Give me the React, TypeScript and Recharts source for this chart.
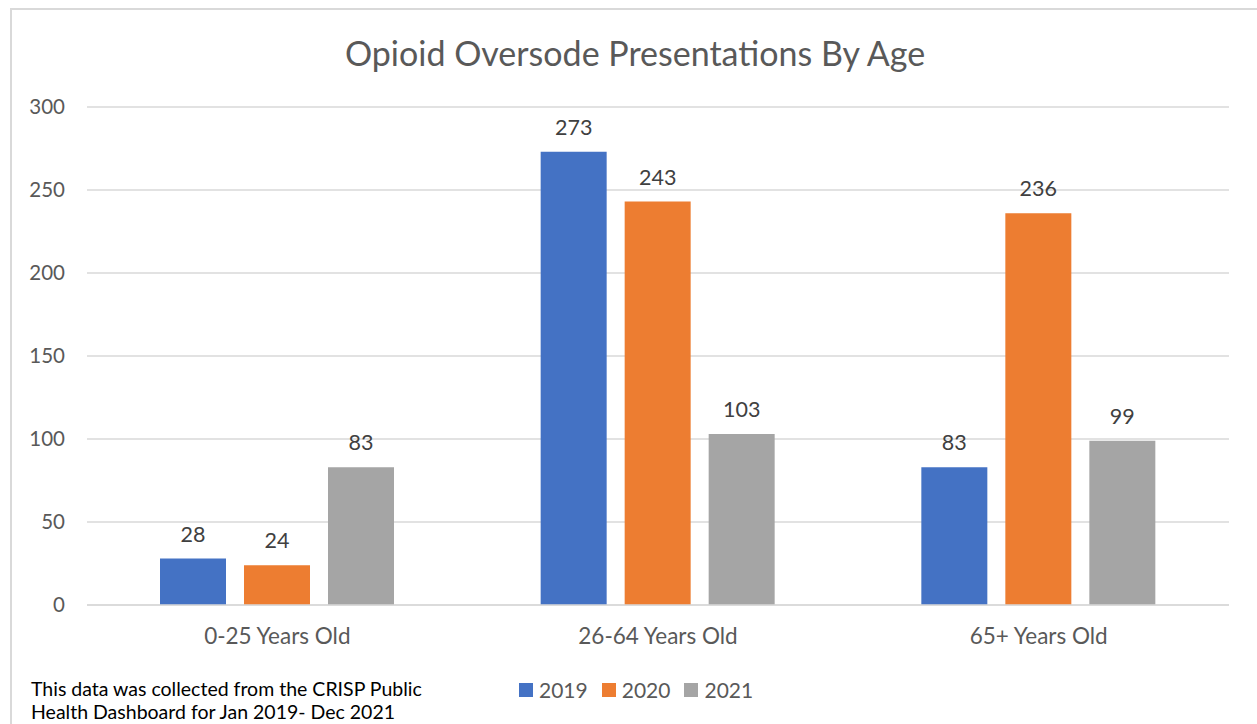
import { BarChart, Bar, XAxis, YAxis, CartesianGrid, LabelList } from 'recharts'

const ageGroups = ['0-25 Years Old', '26-64 Years Old', '65+ Years Old']
const years = ['2019', '2020', '2021']
const counts2019 = [28, 273, 83]
const counts2020 = [24, 243, 236]
const counts2021 = [83, 103, 99]
const yTicks = [0, 50, 100, 150, 200, 250, 300]
const colors = ['#4472C4', '#ED7D31', '#A5A5A5']

const seriesValues = [counts2019, counts2020, counts2021]

const data = ageGroups.map((group, i) => {
  const row: Record<string, string | number> = { group }
  years.forEach((y, s) => {
    row[y] = seriesValues[s][i]
  })
  return row
})

const font = 'Lato, "Liberation Sans", sans-serif'

export default function App() {
  return (
    <div
      style={{
        position: 'absolute',
        left: 0,
        top: 0,
        width: 1257,
        height: 724,
        overflow: 'hidden',
        background: '#fff',
        fontFamily: font,
      }}
    >
      {/* chart frame, runs off the right and bottom edge */}
      <div
        style={{
          position: 'absolute',
          left: 10,
          top: 8,
          width: 1300,
          height: 760,
          border: '2px solid #d9d9d9',
          boxSizing: 'border-box',
        }}
      />
      <div
        style={{
          position: 'absolute',
          left: 0,
          width: 1270,
          top: 32,
          textAlign: 'center',
          fontSize: 34,
          color: '#595959',
        }}
      >
        Opioid Oversode Presentations By Age
      </div>
      <div style={{ position: 'absolute', left: 0, top: 0 }}>
        <BarChart
          width={1257}
          height={724}
          data={data}
          margin={{ top: 107, right: 28, bottom: 89, left: 0 }}
          barGap={18}
          barSize={66}
        >
          <CartesianGrid vertical={false} stroke="#d9d9d9" strokeWidth={1.5} />
          <YAxis
            width={87}
            domain={[0, 300]}
            ticks={yTicks}
            axisLine={false}
            tickLine={false}
            tickSize={0}
            tickMargin={22}
            tick={{ fill: '#595959', fontSize: 20.5, fontFamily: font }}
          />
          <XAxis
            dataKey="group"
            height={30}
            axisLine={{ stroke: '#d9d9d9', strokeWidth: 1.5 }}
            tickLine={false}
            tickSize={0}
            tickMargin={23}
            tick={{ fill: '#595959', fontSize: 22.5, fontFamily: font }}
          />
          {years.map((y, s) => (
            <Bar key={y} dataKey={y} fill={colors[s]} isAnimationActive={false}>
              <LabelList
                dataKey={y}
                position="top"
                offset={17}
                fill="#404040"
                fontSize={21.5}
                fontFamily={font}
              />
            </Bar>
          ))}
        </BarChart>
      </div>
      <div
        style={{
          position: 'absolute',
          left: 519,
          top: 677,
          display: 'flex',
          alignItems: 'center',
          fontSize: 21,
          color: '#595959',
        }}
      >
        {years.map((y, s) => (
          <div key={y} style={{ display: 'flex', alignItems: 'center', marginRight: 14 }}>
            <span
              style={{
                display: 'inline-block',
                width: 14,
                height: 14,
                background: colors[s],
                marginRight: 6,
              }}
            />
            <span>{y}</span>
          </div>
        ))}
      </div>
      <div
        style={{
          position: 'absolute',
          left: 31,
          top: 677,
          fontSize: 19.5,
          lineHeight: '23px',
          color: '#000',
        }}
      >
        This data was collected from the CRISP Public
        <br />
        Health Dashboard for Jan 2019- Dec 2021
      </div>
    </div>
  )
}
